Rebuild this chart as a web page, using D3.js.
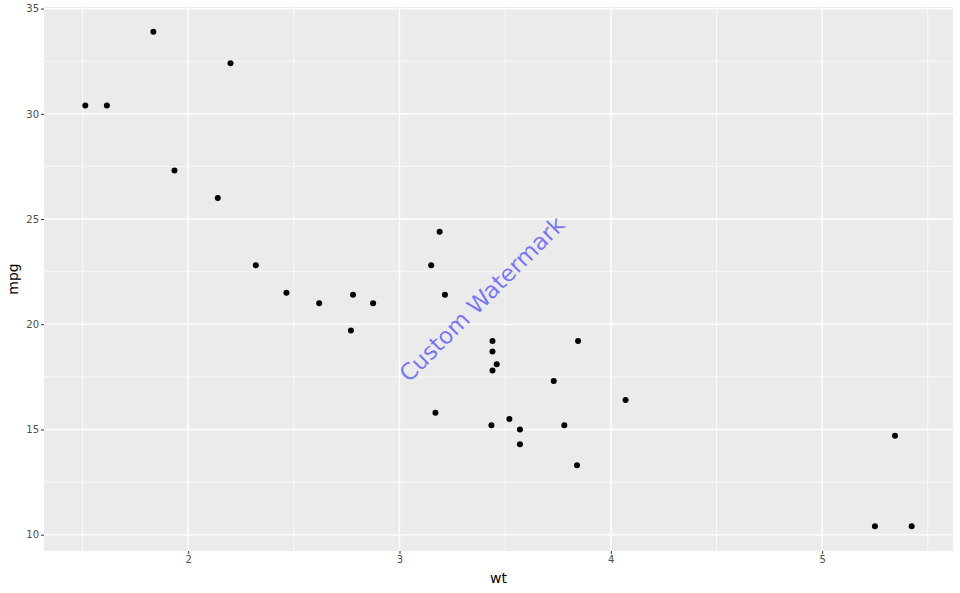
<!DOCTYPE html>
<html><head><meta charset="utf-8">
<script src="https://cdn.jsdelivr.net/npm/d3@7"></script>
<style>body{margin:0;background:#fff;} text{font-family:"DejaVu Sans",sans-serif;}</style>
</head><body>
<svg id="chart" width="960" height="593"></svg>
<script>
const wt  = [2.620,2.875,2.320,3.215,3.440,3.460,3.570,3.190,3.150,3.440,3.440,4.070,3.730,3.780,5.250,5.424,5.345,2.200,1.615,1.835,2.465,3.520,3.435,3.840,3.845,1.935,2.140,1.513,3.170,2.770,3.570,2.780];
const mpg = [21.0,21.0,22.8,21.4,18.7,18.1,14.3,24.4,22.8,19.2,17.8,16.4,17.3,15.2,10.4,10.4,14.7,32.4,30.4,33.9,21.5,15.5,15.2,13.3,19.2,27.3,26.0,30.4,15.8,19.7,15.0,21.4];
const xTicks = [2,3,4,5];
const xMinor = [1.5,2.5,3.5,4.5,5.5];
const yTicks = [10,15,20,25,30,35];
const yMinor = [12.5,17.5,22.5,27.5,32.5];
const watermark = {label:"Custom Watermark", x:3.39, y:21.2, angle:-45};

const svg = d3.select("#chart");
const P = {l:44, r:953, t:7, b:551};
const xr = d3.extent(wt), yr = d3.extent(mpg);
const xe = (xr[1]-xr[0])*0.05, ye = (yr[1]-yr[0])*0.05;
const x = d3.scaleLinear().domain([xr[0]-xe, xr[1]+xe]).range([P.l, P.r]);
const y = d3.scaleLinear().domain([yr[0]-ye, yr[1]+ye]).range([P.b, P.t]);

svg.append("rect").attr("x",P.l).attr("y",P.t).attr("width",P.r-P.l).attr("height",P.b-P.t).attr("fill","#ebebeb");
const g = svg.append("g");
g.selectAll(".xm").data(xMinor.filter(d=>x(d)>=P.l&&x(d)<=P.r)).join("line").attr("x1",d=>x(d)).attr("x2",d=>x(d)).attr("y1",P.t).attr("y2",P.b).attr("stroke","#fff").attr("stroke-width",0.7);
g.selectAll(".ym").data(yMinor).join("line").attr("y1",d=>y(d)).attr("y2",d=>y(d)).attr("x1",P.l).attr("x2",P.r).attr("stroke","#fff").attr("stroke-width",0.7);
g.selectAll(".xM").data(xTicks).join("line").attr("x1",d=>x(d)).attr("x2",d=>x(d)).attr("y1",P.t).attr("y2",P.b).attr("stroke","#fff").attr("stroke-width",1.4);
g.selectAll(".yM").data(yTicks).join("line").attr("y1",d=>y(d)).attr("y2",d=>y(d)).attr("x1",P.l).attr("x2",P.r).attr("stroke","#fff").attr("stroke-width",1.4);

// axes
const xAxis = d3.axisBottom(x).tickValues(xTicks).tickSize(3).tickPadding(2).tickFormat(d3.format("d"));
const yAxis = d3.axisLeft(y).tickValues(yTicks).tickSize(3).tickPadding(2).tickFormat(d3.format("d"));
const gx = svg.append("g").attr("transform",`translate(0,${P.b})`).call(xAxis);
const gy = svg.append("g").attr("transform",`translate(${P.l},0)`).call(yAxis);
[gx,gy].forEach(a=>{
  a.select(".domain").remove();
  a.selectAll(".tick line").attr("stroke","#333").attr("stroke-width",1);
  a.selectAll(".tick text").attr("fill","#4d4d4d").style("font-size","10px").style("font-family","DejaVu Sans");
});

// points
svg.append("g").selectAll("circle").data(wt.map((d,i)=>[d,mpg[i]])).join("circle")
  .attr("cx",d=>x(d[0])).attr("cy",d=>y(d[1])).attr("r",3).attr("fill","#000");

// watermark
svg.append("text").attr("transform",`translate(${x(watermark.x)},${y(watermark.y)}) rotate(${watermark.angle})`)
  .attr("text-anchor","middle").attr("dominant-baseline","central")
  .attr("fill","blue").attr("fill-opacity",0.5).style("font-size","23px").text(watermark.label);

// titles
svg.append("text").attr("x",(P.l+P.r)/2).attr("y",583).attr("text-anchor","middle").style("font-size","14px").attr("fill","#000").text("wt");
svg.append("text").attr("transform",`translate(18,${(P.t+P.b)/2}) rotate(-90)`).attr("text-anchor","middle").style("font-size","14px").attr("fill","#000").text("mpg");
</script>
</body></html>
